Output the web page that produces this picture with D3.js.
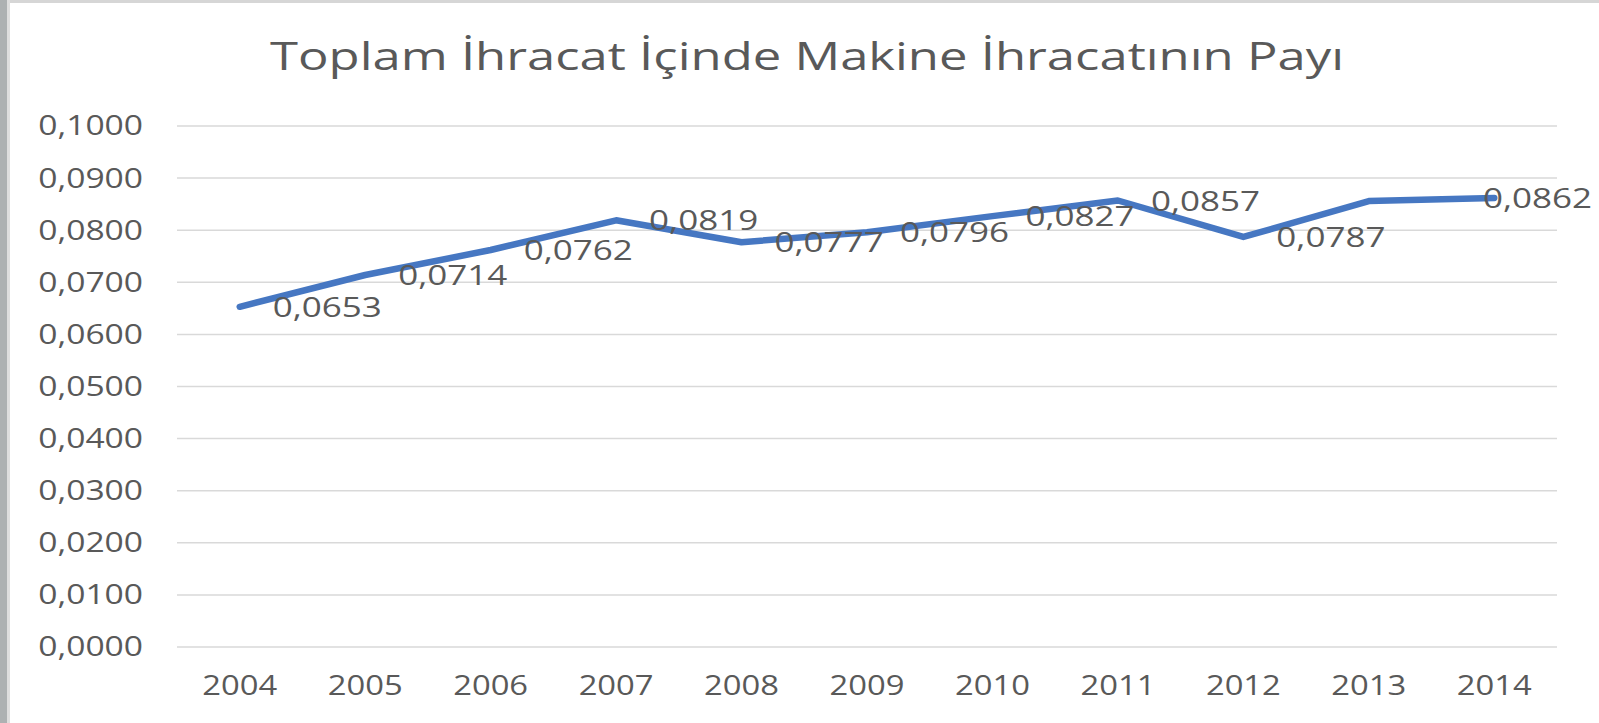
<!DOCTYPE html>
<html>
<head>
<meta charset="utf-8">
<script src="https://cdn.jsdelivr.net/npm/d3@7"></script>
<style>
  html, body { margin: 0; padding: 0; background: #fff; }
  svg text { font-family: "Open Sans", "DejaVu Sans", sans-serif; fill: #595959; }
  .wide { transform-box: fill-box; }
</style>
</head>
<body>
<div class="chart"></div>
<script>
// data
const years = ["2004", "2005", "2006", "2007", "2008", "2009", "2010", "2011", "2012", "2013", "2014"];
const share = [0.0653, 0.0714, 0.0762, 0.0819, 0.0777, 0.0796, 0.0827, 0.0857, 0.0787, 0.0856, 0.0862];
// the 2013 label is not shown in the original
const showLabel = [true, true, true, true, true, true, true, true, true, false, true];
const yTicks = [0, 0.01, 0.02, 0.03, 0.04, 0.05, 0.06, 0.07, 0.08, 0.09, 0.1];
const title = "Toplam İhracat İçinde Makine İhracatının Payı";

const W = 1599, H = 723;
const margin = { top: 126, right: 42, bottom: 76, left: 177 };
const width = W - margin.left - margin.right,
  height = H - margin.top - margin.bottom;

const tr = d3.formatLocale({ decimal: ",", thousands: ".", grouping: [3], currency: ["", ""] });
const fmt = tr.format(".4f");

const root = d3.select(".chart").append("svg")
  .attr("width", W)
  .attr("height", H);

// window frame edges
root.append("rect").attr("x", 0).attr("y", 0).attr("width", W).attr("height", 3).attr("fill", "#d6d6d6");
root.append("rect").attr("x", 0).attr("y", 0).attr("width", 10).attr("height", H).attr("fill", "#dedede");
root.append("rect").attr("x", 0).attr("y", 0).attr("width", 7).attr("height", H).attr("fill", "#adb1b2");

root.append("text")
  .attr("x", 807)
  .attr("y", 70)
  .attr("text-anchor", "middle")
  .attr("font-size", 39)
  .attr("textLength", 1074)
  .attr("lengthAdjust", "spacingAndGlyphs")
  .text(title);

const svg = root.append("g")
  .attr("transform", "translate(" + margin.left + "," + margin.top + ")");

let x = d3.scaleBand().domain(years).range([0, width]);
let y = d3.scaleLinear().domain([0, 0.1]).range([height, 0]);

// gridlines
svg.append("g")
  .selectAll("line")
  .data(yTicks)
  .join("line")
  .attr("x1", 0)
  .attr("x2", width)
  .attr("y1", d => y(d))
  .attr("y2", d => y(d))
  .attr("stroke", "#d9d9d9")
  .attr("stroke-width", 1.5);

const yAxis = d3.axisLeft(y).tickValues(yTicks).tickFormat(fmt).tickSize(0).tickPadding(34);
const yAxisGroup = svg.append("g").attr("class", "axis y-axis").call(yAxis);
yAxisGroup.select(".domain").remove();
yAxisGroup.selectAll("text")
  .attr("font-size", 28)
  .attr("class", "wide")
  .style("transform-origin", "right center")
  .style("transform", "scaleX(1.2)");

const xAxis = d3.axisBottom(x).tickSize(0).tickPadding(28);
const xAxisGroup = svg.append("g")
  .attr("class", "axis x-axis")
  .attr("transform", "translate(0," + height + ")")
  .call(xAxis);
xAxisGroup.select(".domain").remove();
xAxisGroup.selectAll("text")
  .attr("font-size", 28)
  .attr("class", "wide")
  .style("transform-origin", "center")
  .style("transform", "scaleX(1.17)");

const cx = (d, i) => x(years[i]) + x.bandwidth() / 2;

const line = d3.line()
  .x(cx)
  .y(d => y(d));

svg.append("path")
  .datum(share)
  .attr("fill", "none")
  .attr("stroke", "#4677c2")
  .attr("stroke-width", 6.5)
  .attr("stroke-linejoin", "round")
  .attr("stroke-linecap", "round")
  .attr("d", line);

// data labels, right of each point
const lblScale = 1.25;
const labels = svg.append("g")
  .selectAll("text")
  .data(share.map((v, i) => ({ v, i })).filter(d => showLabel[d.i]))
  .join("text")
  .attr("class", "wide")
  .style("transform-origin", "left center")
  .style("transform", "scaleX(" + lblScale + ")")
  .attr("font-size", 28)
  .attr("dy", "0.36em")
  .attr("y", d => y(d.v))
  .attr("x", d => cx(d.v, d.i) + 33)
  .text(d => fmt(d.v));

// keep the last label inside the chart
labels.each(function (d) {
  const w = this.getComputedTextLength() * lblScale;
  const maxRight = W - margin.left - 7;
  const x0 = +d3.select(this).attr("x");
  if (x0 + w > maxRight) d3.select(this).attr("x", maxRight - w);
});
</script>
</body>
</html>
